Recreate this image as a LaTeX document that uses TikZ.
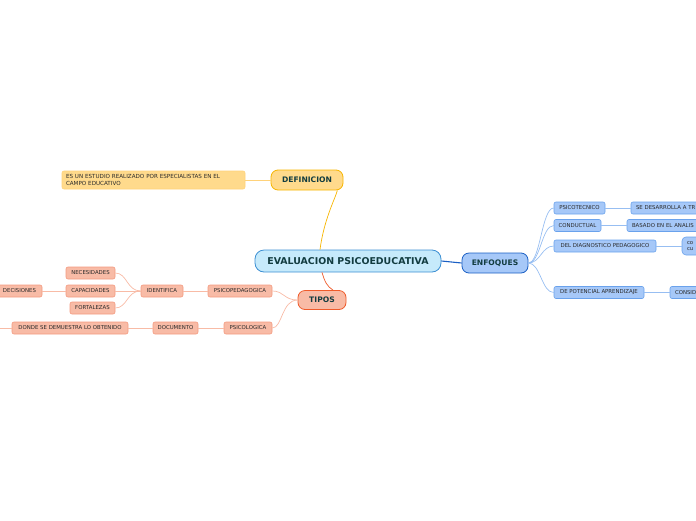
\documentclass[tikz,border=0pt]{standalone}
\usepackage{fontspec}
\setmainfont{DejaVu Sans}
\usepackage{tikz}
\usetikzlibrary{positioning, calc}
\definecolor{main}{HTML}{C6EAFB}
\definecolor{mainline}{HTML}{3C8FD3}
\definecolor{def}{HTML}{FFDA8C}
\definecolor{defline}{HTML}{F7B500}
\definecolor{defleaf}{HTML}{FFD27A}
\definecolor{tipo}{HTML}{F8BBA6}
\definecolor{tipoline}{HTML}{EF5B2B}
\definecolor{tipoleaf}{HTML}{F49A80}
\definecolor{enf}{HTML}{A6C8F8}
\definecolor{enfline}{HTML}{1A5FC4}
\definecolor{enfleaf}{HTML}{6AA2EC}
\definecolor{headtext}{HTML}{123C40}
\definecolor{leaftext}{HTML}{2A2A2A}
\tikzset{
  topic/.style={
    rectangle, draw=#1line, fill=#1, rounded corners=7pt,
    font=\fontsize{7.6}{8}\selectfont\bfseries, text=headtext,
    inner sep=0pt, line width=0.8pt, text centered
  },
  leaf/.style={
    rectangle, rounded corners=2pt, inner sep=0pt,
    minimum height=12pt, font=\fontsize{5.4}{6}\selectfont,
    text=leaftext, line width=0.6pt
  },
  enfnode/.style={leaf, draw=enfleaf, fill=enf},
  tiponode/.style={leaf, draw=tipoleaf, fill=tipo},
  link/.style={line width=0.7pt},
}

\begin{document}
\begin{tikzpicture}[x=1pt, y=-1pt]
\useasboundingbox (0,0) rectangle (696,520);
\clip (0,0) rectangle (696,520);

\node[topic=main, minimum width=186pt, minimum height=22pt, rounded corners=9pt, font=\fontsize{9.4}{10}\selectfont\bfseries] (central) at (348,261) {EVALUACION PSICOEDUCATIVA};

% Definicion
\node[topic=def, minimum width=72pt, minimum height=20pt] (definicion) at (307,180) {DEFINICION};
\node[leaf, draw=defleaf, fill=def, minimum width=183pt, minimum height=18pt, text width=175pt, align=left, font=\fontsize{5.6}{7}\selectfont] (estudio) at (153.5,180) {ES UN ESTUDIO REALIZADO POR ESPECIALISTAS EN EL\\CAMPO EDUCATIVO};
\draw[link, defline] (central.north) ++(-28,0) .. controls +(4,-30) and +(-3,10) .. ($(definicion.south east)+(-6,0)$);
\draw[link, defleaf] (definicion.west) -- (estudio.east);

% Tipos
\node[topic=tipo, minimum width=48pt, minimum height=19pt] (tipos) at (322,300) {TIPOS};
\draw[link, tipoline] (central.south) ++(-26,0) .. controls +(3,10) and +(-6,-4) .. ($(tipos.north)+(11,0)$);

\node[tiponode, minimum width=64pt] (psicoped) at (240,291) {PSICOPEDAGOGICA};
\node[tiponode, minimum width=48pt] (psicolog) at (248,328) {PSICOLOGICA};
\node[tiponode, minimum width=42pt] (identifica) at (162,291) {IDENTIFICA};
\node[tiponode, minimum width=45pt] (documento) at (175.5,328) {DOCUMENTO};
\node[tiponode, minimum width=49pt] (necesidades) at (90.5,273) {NECESIDADES};
\node[tiponode, minimum width=49pt] (capacidades) at (90.5,291) {CAPACIDADES};
\node[tiponode, minimum width=45pt] (fortalezas) at (92.5,308) {FORTALEZAS};
\node[tiponode, minimum width=45pt] (decisiones) at (19.5,291) {DECISIONES};
\node[tiponode, minimum width=116pt] (donde) at (70,328) {DONDE SE DEMUESTRA LO OBTENIDO};
\coordinate (dondeend) at (-5,328);

\draw[link, tipo] (tipos.west) .. controls +(-14,0) and +(12,0) .. (psicoped.east);
\draw[link, tipo] (tipos.west) .. controls +(-16,0) and +(10,0) .. (psicolog.east);
\draw[link, tipo] (psicoped.west) -- (identifica.east);
\draw[link, tipo] (psicolog.west) -- (documento.east);
\draw[link, tipo] (documento.west) -- (donde.east);
\draw[link, tipo] (donde.west) -- (dondeend);
\draw[link, tipo] (identifica.west) .. controls +(-14,0) and +(12,0) .. (necesidades.east);
\draw[link, tipo] (identifica.west) -- (capacidades.east);
\draw[link, tipo] (identifica.west) .. controls +(-14,0) and +(12,0) .. (fortalezas.east);
\draw[link, tipo] (capacidades.west) -- (decisiones.east);

% Enfoques
\node[topic=enf, minimum width=66pt, minimum height=20pt] (enfoques) at (495,263) {ENFOQUES};
\draw[line width=1.1pt, enfline] (central.east) -- (enfoques.west);

\node[enfnode, minimum width=51pt] (psicotecnico) at (579.5,208) {PSICOTECNICO};
\node[enfnode, minimum width=47pt] (conductual) at (577.5,225.5) {CONDUCTUAL};
\node[enfnode, minimum width=102pt] (diagnostico) at (605,246) {DEL DIAGNOSTICO PEDAGOGICO};
\node[enfnode, minimum width=90pt] (potencial) at (599,292.5) {DE POTENCIAL APRENDIZAJE};
\node[enfnode, minimum width=90pt, text width=80pt, align=left] (desarrolla) at (676,208) {SE DESARROLLA A TR};
\node[enfnode, minimum width=100pt, text width=90pt, align=left] (basado) at (677,225.5) {BASADO EN EL ANALIS};
\node[enfnode, minimum width=40pt, minimum height=18pt, text width=30pt, align=left, rounded corners=4pt, font=\fontsize{5.4}{6.6}\selectfont] (contenidos) at (702,246) {co\\cu};
\node[enfnode, minimum width=60pt, text width=50pt, align=left] (considera) at (700,292.5) {CONSID};

\foreach \leafname in {psicotecnico, conductual, diagnostico, potencial}
  \draw[link, enfleaf!70] (enfoques.east) .. controls +(12,0) and +(-12,0) .. (\leafname.west);
\draw[link, enfleaf!70] (psicotecnico.east) -- (desarrolla.west);
\draw[link, enfleaf!70] (conductual.east) -- (basado.west);
\draw[link, enfleaf!70] (diagnostico.east) -- (contenidos.west);
\draw[link, enfleaf!70] (potencial.east) -- (considera.west);

\end{tikzpicture}
\end{document}
